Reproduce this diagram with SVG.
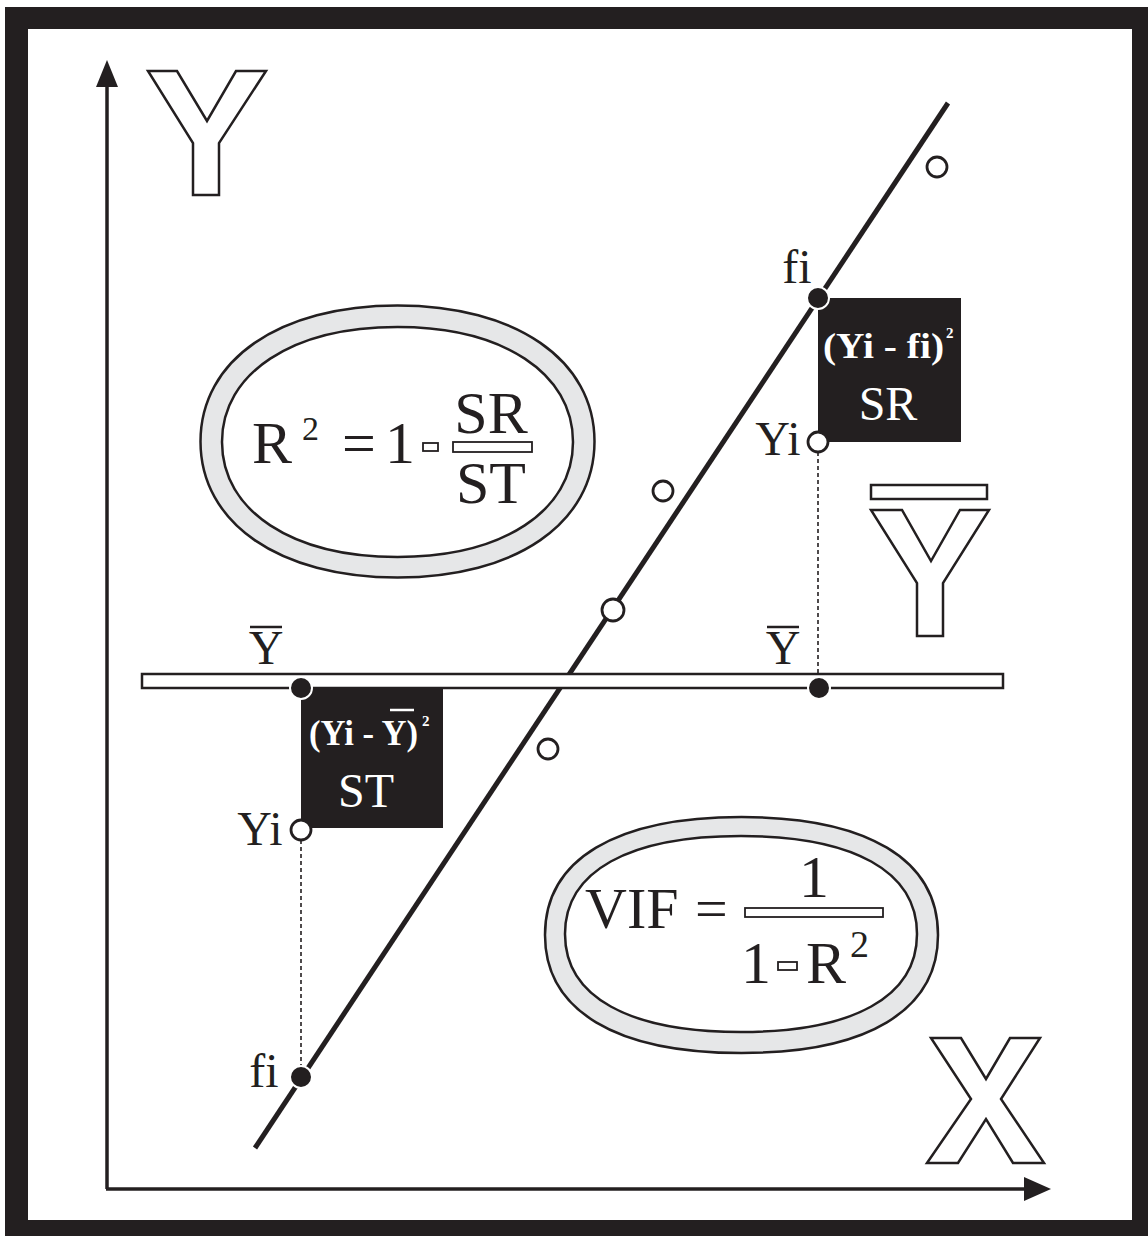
<svg xmlns="http://www.w3.org/2000/svg" width="1148" height="1236" viewBox="0 0 1148 1236">
<style>
.t{font-family:"Liberation Serif","Times New Roman",serif;fill:#231f20}
.w{font-family:"Liberation Serif","Times New Roman",serif;fill:#fff}
.ol{fill:#fff;stroke:#231f20;stroke-width:2.5}
.ax{stroke:#231f20;stroke-width:3.5;fill:none}
.dash{stroke:#231f20;stroke-width:1.6;stroke-dasharray:4 3;fill:none}
.open{fill:#fff;stroke:#231f20;stroke-width:2.8}
.dot{fill:#231f20;stroke:#fff;stroke-width:2}
.ring{fill:#e6e7e8;stroke:#231f20;stroke-width:2.5}
.inner{fill:#fff;stroke:#231f20;stroke-width:2.5}
.box{fill:#231f20}
.mb{fill:#fff;stroke:#231f20;stroke-width:1.8}
</style>
<rect x="0" y="0" width="1148" height="1236" fill="#fff"/>
<rect x="5" y="7" width="1143" height="1229" fill="#231f20"/>
<rect x="28" y="29" width="1104" height="1191" fill="#fff"/>

<g id="axes">
<line class="ax" x1="107" y1="1189" x2="107" y2="86"/>
<path d="M107,60 L96,87 L118,87 z" fill="#231f20"/>
<line class="ax" x1="106" y1="1189" x2="1026" y2="1189"/>
<path d="M1051,1189 L1024,1177 L1024,1201 z" fill="#231f20"/>
</g>

<g id="label-Y">
<polygon class="ol" points="148,71 177,71 207,121 236,71 266,71 219,143 219,195 193,195 193,143"/>
</g>
<g id="label-X">
<polygon class="ol" points="931,1038 961,1038 986,1079 1010,1038 1040,1038 1001,1099 1044,1163 1013,1163 986,1119 958,1163 927,1163 971,1099"/>
</g>
<g id="label-Ybar-big">
<rect class="ol" x="871" y="485" width="116" height="14"/>
<polygon class="ol" points="871,510 902,510 931,561 960,510 989,510 943,583 943,636 917,636 917,583"/>
</g>

<g id="r2-formula">
<path class="ring" d="M200.5,441.5 C200.5,359.9 279.3,305.5 397.5,305.5 C515.7,305.5 594.5,359.9 594.5,441.5 C594.5,523.1 515.7,577.5 397.5,577.5 C279.3,577.5 200.5,523.1 200.5,441.5Z"/>
<path class="inner" d="M222,442 C222,373 292.2,327 397.5,327 C502.8,327 573,373 573,442 C573,511 502.8,557 397.5,557 C292.2,557 222,511 222,442Z"/>
<text class="t" x="252" y="463" font-size="60">R</text>
<text class="t" x="302" y="440" font-size="34">2</text>
<text class="t" x="342" y="463" font-size="60">=</text>
<text class="t" x="385" y="463" font-size="60">1</text>
<rect class="mb" x="423" y="443" width="15" height="8"/>
<text class="t" x="491" y="433" font-size="60" text-anchor="middle">SR</text>
<rect class="mb" x="453" y="442" width="79" height="10"/>
<text class="t" x="491" y="503" font-size="60" text-anchor="middle">ST</text>
</g>

<g id="vif-formula">
<path class="ring" d="M545,935 C545,859.5 615.7,817 741.5,817 C867.3,817 938,859.5 938,935 C938,1010.5 867.3,1053 741.5,1053 C615.7,1053 545,1010.5 545,935Z"/>
<path class="inner" d="M565,934 C565,871.3 628.4,836 741,836 C853.6,836 917,871.3 917,934 C917,996.7 853.6,1032 741,1032 C628.4,1032 565,996.7 565,934Z"/>
<text class="t" x="585" y="928" font-size="58">VIF</text>
<text class="t" x="695" y="928" font-size="58">=</text>
<text class="t" x="814" y="897" font-size="60" text-anchor="middle">1</text>
<rect class="mb" x="745" y="908" width="138" height="9"/>
<text class="t" x="741" y="983" font-size="60">1</text>
<rect class="mb" x="778" y="962" width="19" height="8"/>
<text class="t" x="806" y="983" font-size="60">R</text>
<text class="t" x="850" y="957" font-size="38">2</text>
</g>

<g id="connectors">
<line x1="255" y1="1148" x2="948" y2="103" stroke="#231f20" stroke-width="5"/>
<line class="dash" x1="301" y1="840" x2="301" y2="1066"/>
<line class="dash" x1="818" y1="452" x2="818" y2="677"/>
</g>

<g id="mean-bar">
<rect class="ol" x="142" y="674" width="861" height="14"/>
</g>

<g id="st-box">
<rect class="box" x="301" y="688" width="142" height="140"/>
<text class="w" x="309" y="745" font-size="36" font-weight="bold" textLength="109" lengthAdjust="spacingAndGlyphs">(Yi - Y)</text>
<line x1="390" y1="710" x2="414" y2="710" stroke="#fff" stroke-width="2.5"/>
<text class="w" x="422" y="726" font-size="15" font-weight="bold">2</text>
<text class="w" x="366" y="807" font-size="48" text-anchor="middle">ST</text>
</g>

<g id="sr-box">
<rect class="box" x="818" y="298" width="143" height="144"/>
<text class="w" x="823" y="358" font-size="36" font-weight="bold" textLength="121" lengthAdjust="spacingAndGlyphs">(Yi - fi)</text>
<text class="w" x="946" y="338" font-size="15" font-weight="bold">2</text>
<text class="w" x="888" y="420" font-size="48" text-anchor="middle">SR</text>
</g>

<g id="points">
<circle class="open" cx="937" cy="167" r="10"/>
<circle class="open" cx="663" cy="491" r="10"/>
<circle class="open" cx="548" cy="749" r="10"/>
<circle class="open" cx="613" cy="610" r="11" stroke-width="4"/>
</g>

<g id="markers">
<circle class="dot" cx="818" cy="298" r="11"/>
<circle class="open" cx="818" cy="442" r="10"/>
<circle class="dot" cx="819" cy="688" r="11"/>
<circle class="dot" cx="301" cy="688" r="11"/>
<circle class="open" cx="301" cy="830" r="10"/>
<circle class="dot" cx="301" cy="1077" r="11"/>
</g>

<g id="labels">
<text class="t" x="797" y="283" font-size="48" text-anchor="middle">fi</text>
<text class="t" x="778" y="455" font-size="48" text-anchor="middle">Yi</text>
<text class="t" x="260" y="845" font-size="48" text-anchor="middle">Yi</text>
<text class="t" x="264" y="1087" font-size="48" text-anchor="middle">fi</text>
<text class="t" x="266" y="664" font-size="48" text-anchor="middle">Y</text>
<line x1="250" y1="627" x2="282" y2="627" stroke="#231f20" stroke-width="2.5"/>
<text class="t" x="783" y="664" font-size="48" text-anchor="middle">Y</text>
<line x1="767" y1="627" x2="799" y2="627" stroke="#231f20" stroke-width="2.5"/>
</g>
</svg>
